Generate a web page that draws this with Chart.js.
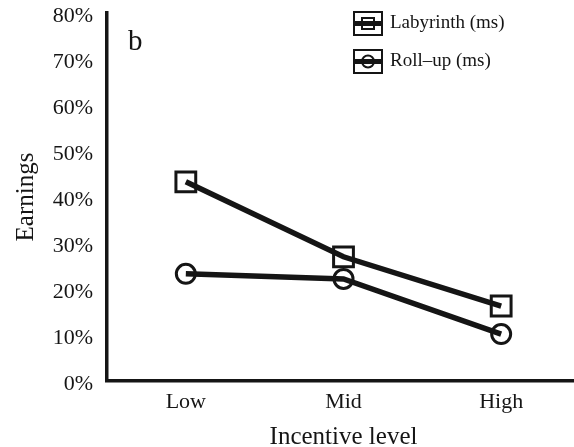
<!DOCTYPE html>
<html>
<head>
<meta charset="utf-8">
<script src="https://cdn.jsdelivr.net/npm/chart.js@4"></script>
<style>
  html, body { margin: 0; padding: 0; background: #fff; overflow: hidden; }
  /* plot runs a little past the right edge of the window, as in the original figure */
  #wrap { width: 580px; height: 447px; position: relative; }
</style>
</head>
<body>
<div id="wrap"><canvas id="chart"></canvas></div>
<script>
const levels = ["Low", "Mid", "High"]
const labyrinth = [43.3, 27.0, 16.3]
const rollUp = [23.3, 22.2, 10.2]
const seriesNames = ["Labyrinth (ms)", "Roll\u2013up (ms)"]

const serif = "'Liberation Serif', 'DejaVu Serif', serif"
const ink = "#151515"

// legend drawn inside the plot, boxed swatches like the original figure
const boxLegend = {
    id: "boxLegend",
    afterDraw(chart) {
        const ctx = chart.ctx
        const area = chart.chartArea
        ctx.save()
        chart.data.datasets.forEach((ds, i) => {
            const x = area.left + 247
            const y = area.top - 1 + i * 38
            const w = 28
            const h = 23
            ctx.lineWidth = 2
            ctx.strokeStyle = ink
            ctx.fillStyle = "#fff"
            ctx.fillRect(x, y, w, h)
            ctx.strokeRect(x, y, w, h)
            ctx.lineWidth = 5
            ctx.beginPath()
            ctx.moveTo(x + 1, y + h / 2)
            ctx.lineTo(x + w - 1, y + h / 2)
            ctx.stroke()
            ctx.lineWidth = 2
            if (ds.pointStyle === "rect") {
                ctx.strokeRect(x + 8, y + 6, 12, 11)
            } else {
                ctx.beginPath()
                ctx.arc(x + w / 2, y + h / 2, 6, 0, Math.PI * 2)
                ctx.stroke()
            }
            ctx.fillStyle = ink
            ctx.font = "19px " + serif
            ctx.textBaseline = "middle"
            ctx.fillText(ds.label, x + w + 8, y + h / 2)
        })
        // panel letter
        ctx.font = "29px " + serif
        ctx.textBaseline = "middle"
        ctx.fillText("b", area.left + 21, area.top + 29)
        ctx.restore()
    },
}

new Chart(document.getElementById("chart"), {
    type: "line",
    data: {
        labels: levels,
        datasets: [
            {
                label: seriesNames[0],
                data: labyrinth,
                borderColor: ink,
                borderWidth: 5.5,
                pointStyle: "rect",
                pointRadius: 14,
                pointBorderWidth: 3,
                pointBackgroundColor: "rgba(255,255,255,0)",
                pointBorderColor: ink,
            },
            {
                label: seriesNames[1],
                data: rollUp,
                borderColor: ink,
                borderWidth: 5.5,
                pointStyle: "circle",
                pointRadius: 9.5,
                pointBorderWidth: 3,
                pointBackgroundColor: "rgba(255,255,255,0)",
                pointBorderColor: ink,
            },
        ],
    },
    options: {
        responsive: true,
        maintainAspectRatio: false,
        animation: false,
        layout: {
            autoPadding: false,
            padding: { top: 13, right: 0, left: 0, bottom: 0 },
        },
        plugins: {
            legend: { display: false },
            tooltip: { enabled: false },
        },
        scales: {
            x: {
                offset: true,
                grid: { display: false, drawTicks: false },
                border: { display: true, color: ink, width: 3.5 },
                ticks: {
                    color: ink,
                    padding: 8,
                    font: { family: serif, size: 22 },
                },
                title: {
                    display: true,
                    text: "Incentive level",
                    color: ink,
                    font: { family: serif, size: 25, lineHeight: 0.75 },
                    padding: { top: 0, bottom: 0 },
                },
                afterFit(scale) {
                    scale.height = 66
                    scale.paddingLeft = 0
                    scale.paddingRight = 0
                },
            },
            y: {
                min: 0,
                max: 80,
                grid: { display: false, drawTicks: false },
                border: { display: true, color: ink, width: 3.5 },
                ticks: {
                    stepSize: 10,
                    color: ink,
                    padding: 14,
                    labelOffset: 3,
                    font: { family: serif, size: 22 },
                    callback: (v) => v + "%",
                },
                title: {
                    display: true,
                    text: "Earnings",
                    color: ink,
                    font: { family: serif, size: 25 },
                    padding: { top: 11, bottom: 0 },
                },
                afterFit(scale) {
                    scale.width = 107
                    scale.paddingTop = 0
                    scale.paddingBottom = 0
                },
            },
        },
    },
    plugins: [boxLegend],
})
</script>
</body>
</html>
